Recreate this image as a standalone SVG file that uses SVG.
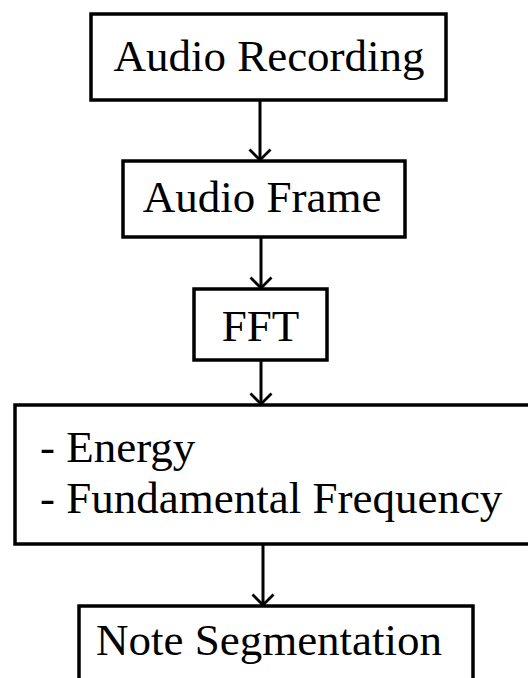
<svg xmlns="http://www.w3.org/2000/svg" width="528" height="678" viewBox="0 0 528 678">
  <style>
    .box { fill: #ffffff; stroke: #000000; stroke-width: 3.5; }
    .label { font-family: "Liberation Serif", "Times New Roman", serif; font-size: 45px; fill: #000000; }
    .mid { text-anchor: middle; }
    .link { fill: none; stroke: #000000; stroke-width: 3; }
  </style>
  <defs>
    <!-- open V arrowhead, tip at the end of the line -->
    <marker id="vee" viewBox="0 0 14 24" refX="12" refY="12" markerWidth="14" markerHeight="24" markerUnits="userSpaceOnUse" orient="auto">
      <path d="M1.5,1.5 L12,12 L1.5,22.5" fill="none" stroke="#000000" stroke-width="2.8"/>
    </marker>
  </defs>
  <rect width="528" height="678" fill="#ffffff"/>

  <g id="connectors">
    <line class="link" x1="260" y1="100" x2="260" y2="160" marker-end="url(#vee)"/>
    <line class="link" x1="261" y1="237" x2="261" y2="288" marker-end="url(#vee)"/>
    <line class="link" x1="261" y1="360" x2="261" y2="404" marker-end="url(#vee)"/>
    <line class="link" x1="263" y1="544" x2="263" y2="605" marker-end="url(#vee)"/>
  </g>

  <g id="audio-recording">
    <rect class="box" x="91" y="14" width="355" height="86"/>
    <text class="label mid" x="269" y="71">Audio Recording</text>
  </g>

  <g id="audio-frame">
    <rect class="box" x="123" y="161" width="282" height="76"/>
    <text class="label mid" x="262" y="212">Audio Frame</text>
  </g>

  <g id="fft">
    <rect class="box" x="194" y="289" width="133" height="71"/>
    <text class="label mid" x="260.5" y="341">FFT</text>
  </g>

  <g id="features">
    <rect class="box" x="15" y="405" width="530" height="139"/>
    <text class="label" x="40" y="462">- Energy</text>
    <text class="label" x="40" y="513">- Fundamental Frequency</text>
  </g>

  <g id="note-segmentation">
    <rect class="box" x="79" y="606" width="394" height="90"/>
    <text class="label mid" x="269" y="655">Note Segmentation</text>
  </g>
</svg>
